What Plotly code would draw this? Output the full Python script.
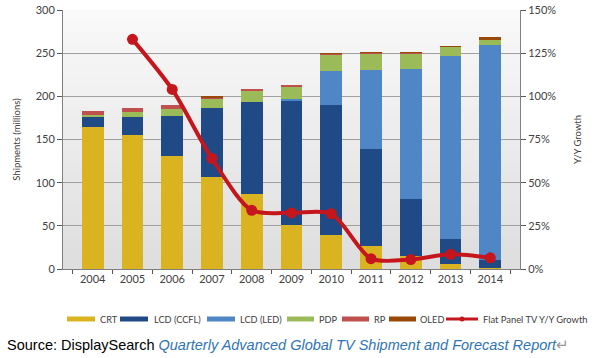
import plotly.graph_objects as go

years = ["2004", "2005", "2006", "2007", "2008", "2009", "2010", "2011", "2012", "2013", "2014"]
crt = [165, 155, 130.5, 107, 87, 51.5, 39, 27, 15.5, 6, 1]
lcd_ccfl = [10.5, 21, 46.5, 79.5, 106, 143.5, 150.5, 111.5, 66, 29, 9]
lcd_led = [0, 0, 0, 0, 0, 1.5, 40, 92, 150, 212, 250]
pdp = [2.5, 6, 8, 11, 14, 15, 19.5, 19.5, 18.5, 10.5, 6]
rp = [5, 5, 5, 1.5, 1.5, 0.5, 0.5, 0.3, 0.2, 0, 0]
oled = [0, 0, 0, 0.5, 0, 0, 0.3, 0.3, 0.3, 0.3, 2.3]
growth = [None, 133, 104, 64, 34, 32.5, 32, 6, 5.5, 8.5, 6.5]

series_names = ["CRT", "LCD (CCFL)", "LCD (LED)", "PDP", "RP", "OLED"]
series_vals = [crt, lcd_ccfl, lcd_led, pdp, rp, oled]
series_colors = ["#dab321", "#1f4a86", "#4f86c6", "#9bbb59", "#c0504d", "#984807"]
line_name = "Flat Panel TV Y/Y Growth"
line_color = "#c4161c"
font_fam = "Lato, Open Sans, sans-serif"

fig = go.Figure()
for name, vals, col in zip(series_names, series_vals, series_colors):
    fig.add_trace(go.Bar(x=years, y=vals, name=name, marker=dict(color=col, line=dict(width=0)),
                         showlegend=False))
fig.add_trace(go.Scatter(x=years, y=growth, yaxis="y2", mode="lines+markers", name=line_name,
                         line=dict(color=line_color, width=4, shape="spline", smoothing=0.8),
                         marker=dict(size=11, color=line_color), showlegend=False))

L, R, T, B = 63, 79, 10, 89
W, H = 599, 358
pw = W - L - R
ph = H - T - B


def px(x):
    return (x - L) / pw


def py(y):
    return (T + ph - y) / ph


shapes = []
# gradient-like plot background
n = 24
for i in range(n):
    t = i / n
    g = int(round(222 + (250 - 222) * t))
    shapes.append(dict(type="rect", xref="x domain", yref="y domain", x0=0, x1=1,
                       y0=t, y1=t + 1.0 / n + 0.002, fillcolor=f"rgb({g},{g},{g})",
                       line=dict(width=0), layer="below"))

annotations = []
# manual legend (positions in pixels)
leg_y = 319
sw_x = [(67, 95), (120, 148), (207, 235), (287, 314), (342, 369), (389, 416)]
txt_x = [98, 152, 238, 317, 372, 418]
for (x0, x1), tx, name, col in zip(sw_x, txt_x, series_names, series_colors):
    shapes.append(dict(type="rect", xref="paper", yref="paper", x0=px(x0), x1=px(x1),
                       y0=py(leg_y + 2.5), y1=py(leg_y - 2.5), fillcolor=col, line=dict(width=0)))
    annotations.append(dict(xref="paper", yref="paper", x=px(tx), y=py(leg_y), xanchor="left",
                            yanchor="middle", showarrow=False, text=name,
                            font=dict(family=font_fam, size=9.2, color="#404040")))
shapes.append(dict(type="line", xref="paper", yref="paper", x0=px(446), x1=px(478),
                   y0=py(leg_y), y1=py(leg_y), line=dict(color=line_color, width=3)))
shapes.append(dict(type="circle", xref="paper", yref="paper", x0=px(459.5), x1=px(464.5),
                   y0=py(leg_y + 2.5), y1=py(leg_y - 2.5), fillcolor=line_color,
                   line=dict(width=0)))
annotations.append(dict(xref="paper", yref="paper", x=px(481), y=py(leg_y), xanchor="left",
                        yanchor="middle", showarrow=False, text=line_name,
                        font=dict(family=font_fam, size=9.4, color="#404040")))

annotations.append(dict(
    xref="paper", yref="paper", x=px(5), y=py(345),
    xanchor="left", yanchor="middle", showarrow=False,
    text="Source: DisplaySearch <i><span style='color:#2f74b5'>Quarterly Advanced Global TV Shipment and Forecast Report</span></i><span style='color:#999999'>\u21b5</span>",
    font=dict(family="Liberation Sans, Arial, sans-serif", size=14.5, color="#000000")))

fig.update_layout(
    width=W, height=H,
    margin=dict(l=L, r=R, t=T, b=B, autoexpand=False),
    paper_bgcolor="white", plot_bgcolor="#eeeeee",
    barmode="stack", bargap=0.45,
    font=dict(family=font_fam, size=11, color="#404040"),
    showlegend=False,
    hovermode=False,
    shapes=shapes,
    annotations=annotations,
    xaxis=dict(showgrid=False, ticks="outside", tickson="boundaries", ticklen=4,
               tickcolor="#595959", showline=True, linecolor="#808080", linewidth=1,
               automargin=False, tickfont=dict(size=11, color="#404040")),
    yaxis=dict(range=[0, 300], dtick=50, showgrid=True, gridcolor="#a0a0a0", gridwidth=1,
               ticks="outside", ticklen=5, tickcolor="#595959", showline=True,
               linecolor="#808080", linewidth=1, zeroline=False, automargin=False,
               title=dict(text="Shipments (millions)", font=dict(size=9.5, color="#404040"), standoff=13),
               tickfont=dict(size=11, color="#404040")),
    yaxis2=dict(range=[0, 150], dtick=25, overlaying="y", side="right", showgrid=False,
                ticks="outside", ticklen=5, tickcolor="#595959", showline=True,
                linecolor="#808080", linewidth=1, ticksuffix="%", zeroline=False, automargin=False,
                title=dict(text="Y/Y Growth", font=dict(size=9.5, color="#404040"), standoff=19),
                tickfont=dict(size=11, color="#404040")),
)

fig.write_html("out.html", config={"displayModeBar": False},
               post_script="document.body.style.margin='0px';")
